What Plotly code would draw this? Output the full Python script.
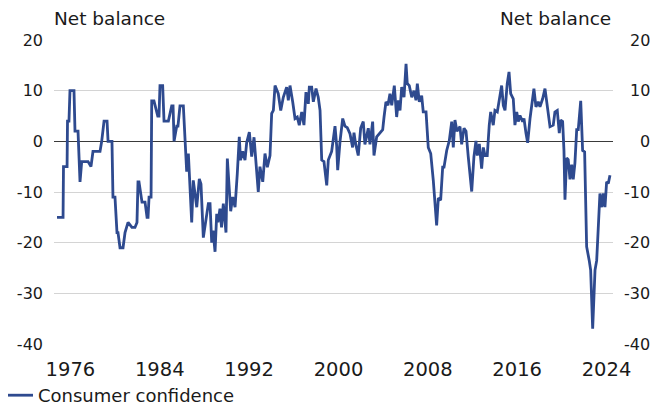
import plotly.graph_objects as go

# Consumer confidence, net balance (decimal year, value)
years = [
    1974.80, 1975.34, 1975.38, 1975.70, 1975.74, 1975.87, 1975.96, 1976.32, 1976.41, 1976.68,
    1976.86, 1977.01, 1977.58, 1977.84, 1978.02, 1978.65, 1978.80, 1979.01, 1979.28, 1979.37,
    1979.72, 1979.81, 1979.99, 1980.17, 1980.26, 1980.44, 1980.71, 1980.89, 1981.16, 1981.51,
    1981.78, 1981.96, 1982.05, 1982.14, 1982.41, 1982.68, 1982.86, 1982.95, 1983.04, 1983.22,
    1983.28, 1983.48, 1983.82, 1983.93, 1984.02, 1984.26, 1984.38, 1984.77, 1985.07, 1985.19,
    1985.28, 1985.52, 1985.63, 1985.81, 1986.11, 1986.26, 1986.41, 1986.56, 1986.71, 1986.86,
    1987.00, 1987.16, 1987.31, 1987.54, 1987.69, 1987.90, 1988.14, 1988.35, 1988.50, 1988.65,
    1988.77, 1988.95, 1989.10, 1989.21, 1989.39, 1989.53, 1989.69, 1989.93, 1990.05, 1990.15,
    1990.35, 1990.53, 1990.74, 1990.94, 1991.12, 1991.23, 1991.43, 1991.63, 1991.78, 1992.02,
    1992.23, 1992.44, 1992.62, 1992.82, 1992.97, 1993.22, 1993.42, 1993.63, 1993.87, 1994.02,
    1994.17, 1994.32, 1994.61, 1994.83, 1995.06, 1995.36, 1995.51, 1995.66, 1995.90, 1996.11,
    1996.31, 1996.49, 1996.71, 1996.91, 1997.09, 1997.30, 1997.39, 1997.60, 1997.75, 1997.99,
    1998.19, 1998.35, 1998.50, 1998.70, 1998.95, 1999.09, 1999.39, 1999.69, 1999.84, 1999.93,
    2000.14, 2000.38, 2000.58, 2000.79, 2001.03, 2001.27, 2001.39, 2001.52, 2001.77, 2001.99,
    2002.22, 2002.37, 2002.67, 2002.82, 2003.06, 2003.18, 2003.42, 2003.72, 2003.96, 2004.08,
    2004.25, 2004.43, 2004.61, 2004.77, 2005.00, 2005.21, 2005.36, 2005.51, 2005.66, 2005.87,
    2006.05, 2006.16, 2006.34, 2006.56, 2006.76, 2006.94, 2007.06, 2007.24, 2007.45, 2007.59,
    2007.84, 2008.04, 2008.26, 2008.49, 2008.64, 2008.79, 2008.94, 2009.15, 2009.33, 2009.45,
    2009.69, 2009.92, 2010.14, 2010.28, 2010.43, 2010.61, 2010.88, 2011.03, 2011.24, 2011.42,
    2011.62, 2011.77, 2011.93, 2012.13, 2012.31, 2012.43, 2012.61, 2012.82, 2012.97, 2013.12,
    2013.32, 2013.50, 2013.63, 2013.86, 2014.01, 2014.22, 2014.46, 2014.61, 2014.76, 2014.91,
    2015.11, 2015.27, 2015.42, 2015.65, 2015.80, 2015.96, 2016.10, 2016.25, 2016.49, 2016.61,
    2016.79, 2016.94, 2017.15, 2017.30, 2017.50, 2017.68, 2017.89, 2018.04, 2018.28, 2018.49,
    2018.70, 2018.94, 2019.23, 2019.38, 2019.59, 2019.77, 2019.89, 2020.07, 2020.19, 2020.28,
    2020.43, 2020.57, 2020.73, 2020.88, 2021.02, 2021.17, 2021.33, 2021.47, 2021.69, 2021.86,
    2022.04, 2022.22, 2022.45, 2022.58, 2022.76, 2022.97, 2023.12, 2023.41, 2023.57, 2023.71,
    2023.86, 2024.01, 2024.16, 2024.31,
]
balance = [
    -15, -15, -5, -5, 4, 4, 10, 10, 2, 2,
    -8, -4, -4, -5, -2, -2, 0, 4, 4, 0,
    0, -11, -11, -18, -18, -21, -21, -18, -16, -17,
    -17, -16, -8, -8, -12, -12, -15, -15, -11, -11,
    8, 8, 5, 5, 11, 11, 4, 4, 7, 7,
    0, 3, 3, 7, 7, 0, -6, -2.4, -11, -16,
    -7.7, -10, -13, -7.4, -8.4, -19, -15, -12.3, -12.3, -20,
    -17.6, -21.8, -14.3, -16, -13.3, -17, -12.3, -18, -3.4, -6.4,
    -13.8, -11, -13, -6.4, 0.9, -3.7, -2, -3.7, -0.3, 1.8,
    -3, 0.8, -3.7, -10, -5, -8, -2.4, -5.1, -2.8, 5.5,
    6.1, 11, 9.4, 6.1, 8.7, 10.7, 8.1, 11, 7.8, 4.5,
    4.8, 3.2, 5.8, 3.2, 9.7, 7.4, 10.7, 10.7, 7.8, 10.4,
    8.7, 6.1, -3.7, -4, -8.7, -3.7, -2, 3, -0.9, -5.7,
    0, 4.5, 3, 2.7, 1.5, -1.2, 1.7, -0.3, -2.8, 2.6,
    3.9, -0.6, 2.6, -0.6, 3.9, -2.8, 0.9, 1.6, 2.3, 4.8,
    7.8, 7.1, 9.4, 7.1, 11, 4.8, 8.1, 6.1, 10.7, 8.7,
    15.3, 11.4, 11, 8.7, 10, 8.1, 11.4, 7.8, 9, 5.8,
    5.8, -1.2, -2.4, -7.7, -12, -16.6, -11.2, -11.6, -5.1, -5.1,
    -1.8, 0.1, 3.9, -1.2, 4.2, 2, 2.9, -0.6, 2.6, 2,
    -3, -6.3, -9.9, -3, 0.1, -2.8, -0.5, -5.4, -1.2, -2.8,
    -2.8, 3.2, 5.8, 3.2, 6.1, 5.8, 9.4, 11, 7.1, 6.1,
    11.4, 13.7, 9.4, 8.4, 3.2, 5.8, 3.9, 5.1, 3.9, 4.5,
    1.6, -0.3, 4.5, 7.1, 10.4, 6.8, 7.8, 6.8, 8.4, 10.4,
    6.8, 2.9, 3.2, 5.8, 6.1, 1.6, 4.2, 3.9, -1.8, -11.5,
    -3.3, -3.6, -7.5, -4.6, -7.5, -4.3, 2.3, 2.3, 8, -1.8,
    -2.1, -20.8, -23.5, -25.4, -37, -25.4, -23.5, -10.3, -13, -10.3,
    -13, -8, -8.3, -6.7,
]

x_ticks = [1976, 1984, 1992, 2000, 2008, 2016, 2024]
x_tick_labels = ["1976", "1984", "1992", "2000", "2008", "2016", "2024"]
y_ticks = [-40, -30, -20, -10, 0, 10, 20]
y_tick_labels = ["-40", "-30", "-20", "-10", "0", "10", "20"]
series_name = "Consumer confidence"
axis_title = "Net balance"

FONT = "DejaVu Sans"
TXT = "#1a1a1a"
LINE = "#2E4A8F"

# The page body has an 8px margin, so the figure is sized/offset to compensate.
W, H = 651, 401
ML, MR, MT, MB = 46, 46, 32, 65
PH = H - MT - MB

fig = go.Figure()
fig.add_trace(go.Scatter(
    x=years, y=balance, mode="lines", name=series_name,
    line=dict(color=LINE, width=2.8),
))

annotations = [
    dict(text=axis_title, xref="paper", yref="paper", x=0, y=1 + 21.5 / PH,
         xanchor="left", yanchor="middle", xshift=-2, showarrow=False,
         font=dict(family=FONT, size=18.5, color=TXT)),
    dict(text=axis_title, xref="paper", yref="paper", x=1, y=1 + 21.5 / PH,
         xanchor="right", yanchor="middle", xshift=0, showarrow=False,
         font=dict(family=FONT, size=18.5, color=TXT)),
]
for v, t in zip(y_ticks, y_tick_labels):
    annotations.append(dict(
        text=t, xref="paper", yref="y", x=1, y=v, xanchor="right",
        yanchor="middle", xshift=39, showarrow=False,
        font=dict(family=FONT, size=16, color=TXT)))

fig.update_layout(
    width=W, height=H, autosize=False,
    margin=dict(l=ML, r=MR, t=MT, b=MB, pad=0, autoexpand=False),
    paper_bgcolor="white", plot_bgcolor="white",
    font=dict(family=FONT, size=16, color=TXT),
    showlegend=True,
    legend=dict(orientation="h", xref="paper", yref="paper",
                x=-56 / (W - ML - MR), y=-70 / PH,
                xanchor="left", yanchor="bottom",
                font=dict(family=FONT, size=18, color=TXT),
                bgcolor="rgba(0,0,0,0)", borderwidth=0),
    xaxis=dict(range=[1974.53, 2024.58], tickmode="array", tickvals=x_ticks,
               ticktext=x_tick_labels, showgrid=False, zeroline=False,
               showline=False, ticks="", ticklabelstandoff=11, automargin=False,
               tickfont=dict(family=FONT, size=19.5, color=TXT)),
    yaxis=dict(range=[-40, 20], tickmode="array", tickvals=y_ticks,
               ticktext=y_tick_labels, showgrid=True, gridcolor="#d4d4d4",
               gridwidth=1, zeroline=True, zerolinecolor="#3a3a3a",
               zerolinewidth=1, showline=False, ticks="", automargin=False,
               ticklabelstandoff=10,
               tickfont=dict(family=FONT, size=16, color=TXT)),
    annotations=annotations,
)

fig.write_html("out.html")
